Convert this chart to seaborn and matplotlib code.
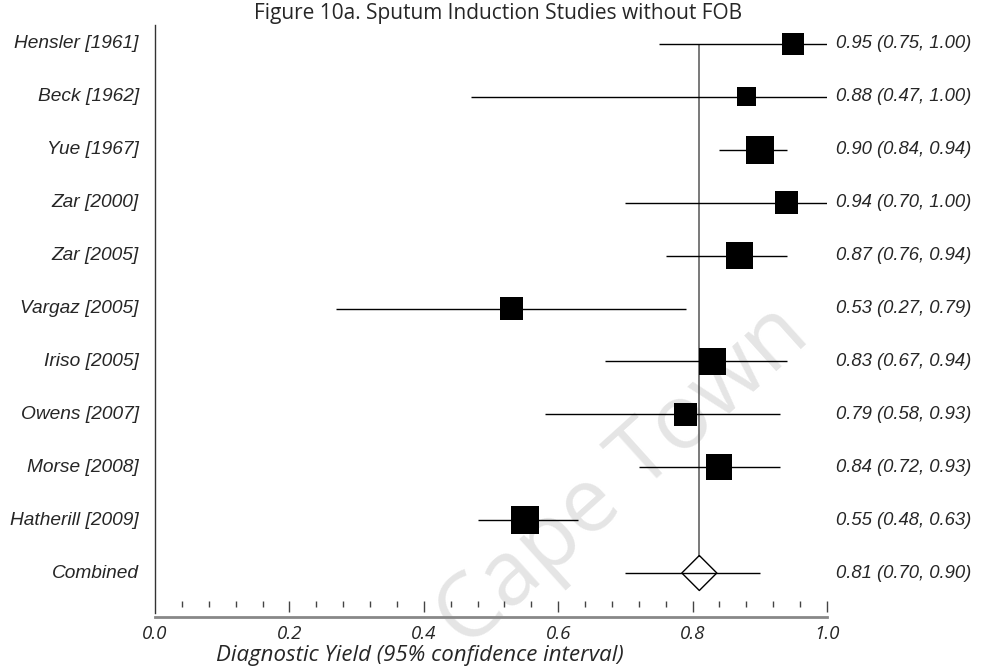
import numpy as np
import pandas as pd
import matplotlib
matplotlib.use("Agg")
import matplotlib.pyplot as plt
import seaborn as sns

# ---- data ----
studies = ["Hensler [1961]", "Beck [1962]", "Yue [1967]", "Zar [2000]", "Zar [2005]",
           "Vargaz [2005]", "Iriso [2005]", "Owens [2007]", "Morse [2008]",
           "Hatherill [2009]"]
estimate = [0.95, 0.88, 0.90, 0.94, 0.87, 0.53, 0.83, 0.79, 0.84, 0.55]
ci_low = [0.75, 0.47, 0.84, 0.70, 0.76, 0.27, 0.67, 0.58, 0.72, 0.48]
ci_high = [1.00, 1.00, 0.94, 1.00, 0.94, 0.79, 0.94, 0.93, 0.93, 0.63]
combined_label = "Combined"
combined_est = 0.81
combined_low = 0.70
combined_high = 0.90
# relative study weights (px)
box_px = [22, 19, 28, 23, 27, 23, 27, 23, 26, 28]
xtick_vals = [0.0, 0.2, 0.4, 0.6, 0.8, 1.0]
xtick_labels = ["0.0", "0.2", "0.4", "0.6", "0.8", "1.0"]

title = "Figure 10a. Sputum Induction Studies without FOB"
xlabel = "Diagnostic Yield (95% confidence interval)"

df = pd.DataFrame({"study": studies, "est": estimate, "lo": ci_low, "hi": ci_high,
                   "row": np.arange(len(studies)),
                   "size": [(p * 0.72) ** 2 for p in box_px]})
comb = pd.DataFrame({"study": [combined_label], "est": [combined_est],
                     "lo": [combined_low], "hi": [combined_high],
                     "row": [len(studies)]})

sns.set_style("white")
plt.rcParams["font.family"] = ["Liberation Sans", "DejaVu Sans"]

W, H = 982, 668
fig = plt.figure(figsize=(W / 100, H / 100), dpi=100)
fig.patch.set_facecolor("white")

# watermark (behind everything)
wm_ax = fig.add_axes([0, 0, 1, 1], zorder=-5)
wm_ax.set_axis_off()
wm_ax.text(624 / W, 1 - 478 / H, "Cape Town", fontsize=65, family="Open Sans",
           color="#e5e5e5", rotation=42, ha="center", va="center",
           transform=wm_ax.transAxes)

px_row = 52.9
top_px, bot_px = 25, 617
row0_px = 44
ax = fig.add_axes([155 / W, (H - bot_px) / H, 672 / W, (bot_px - top_px) / H], zorder=1)
y_top = -(row0_px - top_px) / px_row
y_bot = 10 + (bot_px - 573) / px_row
ax.set_xlim(0, 1)
ax.set_ylim(y_bot, y_top)
ax.patch.set_alpha(0)

# reference line at combined estimate
diamond_half_px = 17.5
ax.vlines(combined_est, 0, comb["row"].iloc[0] - diamond_half_px / px_row,
          color="#555555", lw=1.1, zorder=1)

# CI lines
ax.hlines(df["row"], df["lo"], df["hi"], color="black", lw=1.0, zorder=2)
ax.hlines(comb["row"], comb["lo"], comb["hi"], color="black", lw=1.0, zorder=2)

# study boxes
sns.scatterplot(data=df, x="est", y="row", marker="s", s=df["size"].values,
                color="black", edgecolor="black", linewidth=0, ax=ax,
                legend=False, zorder=3)
# combined diamond
diamond = [(0, 1), (1, 0), (0, -1), (-1, 0), (0, 1)]
sns.scatterplot(data=comb, x="est", y="row", marker=diamond,
                s=(2 * diamond_half_px * 0.72) ** 2, facecolor="none",
                edgecolor="black", linewidth=1.0, ax=ax, legend=False, zorder=3)

# spines
for s in ["top", "right"]:
    ax.spines[s].set_visible(False)
ax.spines["left"].set_color("#333333")
ax.spines["left"].set_linewidth(1.0)
ax.spines["left"].set_bounds(y_top, y_bot - 4 / px_row)
ax.spines["bottom"].set_color("#888888")
ax.spines["bottom"].set_linewidth(2.0)

# ticks: drawn as floating marks above the axis line
ax.set_yticks([])
ax.set_xticks(xtick_vals, xtick_labels)
ax.tick_params(axis="x", length=0, pad=6)
for lab in ax.get_xticklabels():
    lab.set_fontfamily("Open Sans")
    lab.set_fontstyle("italic")
    lab.set_fontsize(13.5)
minor = np.round(np.arange(0.04, 1.0001, 0.04), 2)
is_major = np.isclose(np.mod(minor + 1e-9, 0.2), 0, atol=1e-6)
tick_top = 10 + (601 - 573) / px_row
ax.vlines(minor[~is_major], tick_top, 10 + (607 - 573) / px_row,
          color="#444444", lw=1.0, clip_on=False)
ax.vlines(minor[is_major], tick_top, 10 + (612 - 573) / px_row,
          color="#444444", lw=1.0, clip_on=False)
ax.set_xlabel("")
ax.set_ylabel("")

# xlabel (offset left as in reference)
ax.text((420 - 155) / 672, 10 + (655 - 573) / px_row, xlabel, ha="center",
        va="center", fontsize=16, family="Open Sans", style="italic", clip_on=False)

# left study labels
all_names = studies + [combined_label]
all_rows = list(df["row"]) + list(comb["row"])
for r, name in zip(all_rows, all_names):
    ax.text((139 - 155) / 672, r, name, ha="right", va="center", fontsize=13.8,
            style="italic", clip_on=False)

# right estimate labels
all_est = estimate + [combined_est]
all_lo = ci_low + [combined_low]
all_hi = ci_high + [combined_high]
for r, e, l, h in zip(all_rows, all_est, all_lo, all_hi):
    ax.text((836 - 155) / 672, r, f"{e:.2f} ({l:.2f}, {h:.2f})", ha="left",
            va="center", fontsize=13.3, style="italic", clip_on=False)

# title
fig.text(498 / W, 1 - 13 / H, title, ha="center", va="center", fontsize=15,
         family="Open Sans")

fig.savefig("out.png", dpi=100, facecolor="white")
